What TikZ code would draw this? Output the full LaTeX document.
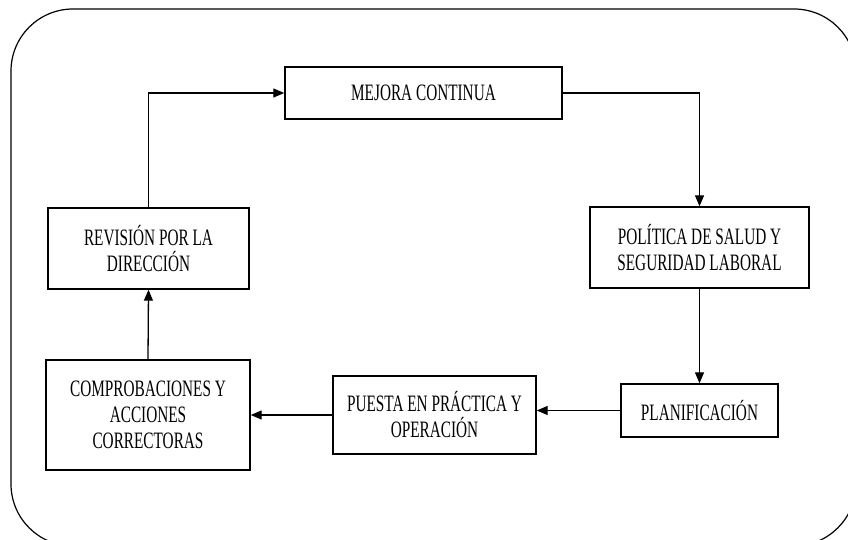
\documentclass[tikz,border=0pt]{standalone}
\usepackage{fontspec}
\setmainfont[FakeStretch=0.65]{Liberation Serif}
\usetikzlibrary{arrows.meta}
\begin{document}
\begin{tikzpicture}[x=1pt,y=-1pt,
  box/.style={draw=black, line width=1.4pt, fill=white, align=center, inner sep=2pt,
    font=\fontsize{23.5}{26}\selectfont},
  conn/.style={line width=1.3pt, -{Triangle[length=11pt,width=9pt]}},
  frame/.style={draw=black, line width=1.2pt, rounded corners=62pt}]
\useasboundingbox (0,0) rectangle (848,540);
\draw[frame] (11,9) rectangle (856,546);
\node[box, minimum width=277pt, minimum height=52pt] (mej) at (423.5,93) {MEJORA CONTINUA};
\node[box, minimum width=219pt, minimum height=81pt] (pol) at (699.5,247.5) {POLÍTICA DE SALUD Y\\SEGURIDAD LABORAL};
\node[box, minimum width=157pt, minimum height=53pt] (plan) at (699.5,410.5) {PLANIFICACIÓN};
\node[box, minimum width=203pt, minimum height=78pt] (pue) at (434.5,415) {PUESTA EN PRÁCTICA Y\\OPERACIÓN};
\node[box, minimum width=204pt, minimum height=110pt] (com) at (148,415) {COMPROBACIONES Y\\ACCIONES\\CORRECTORAS};
\node[box, minimum width=201pt, minimum height=81pt] (rev) at (148.5,248.5) {REVISIÓN POR LA\\DIRECCIÓN};
\draw[conn] (rev.north) |- (mej.west);
\draw[conn] (mej.east) -| (pol.north);
\draw[conn] (pol.south) -- (plan.north);
\draw[conn] (plan.west) -- (plan.west -| pue.east);
\draw[conn] (pue.west) -- (pue.west -| com.east);
\draw[conn] (com.north) -- (rev.south);
\end{tikzpicture}
\end{document}
